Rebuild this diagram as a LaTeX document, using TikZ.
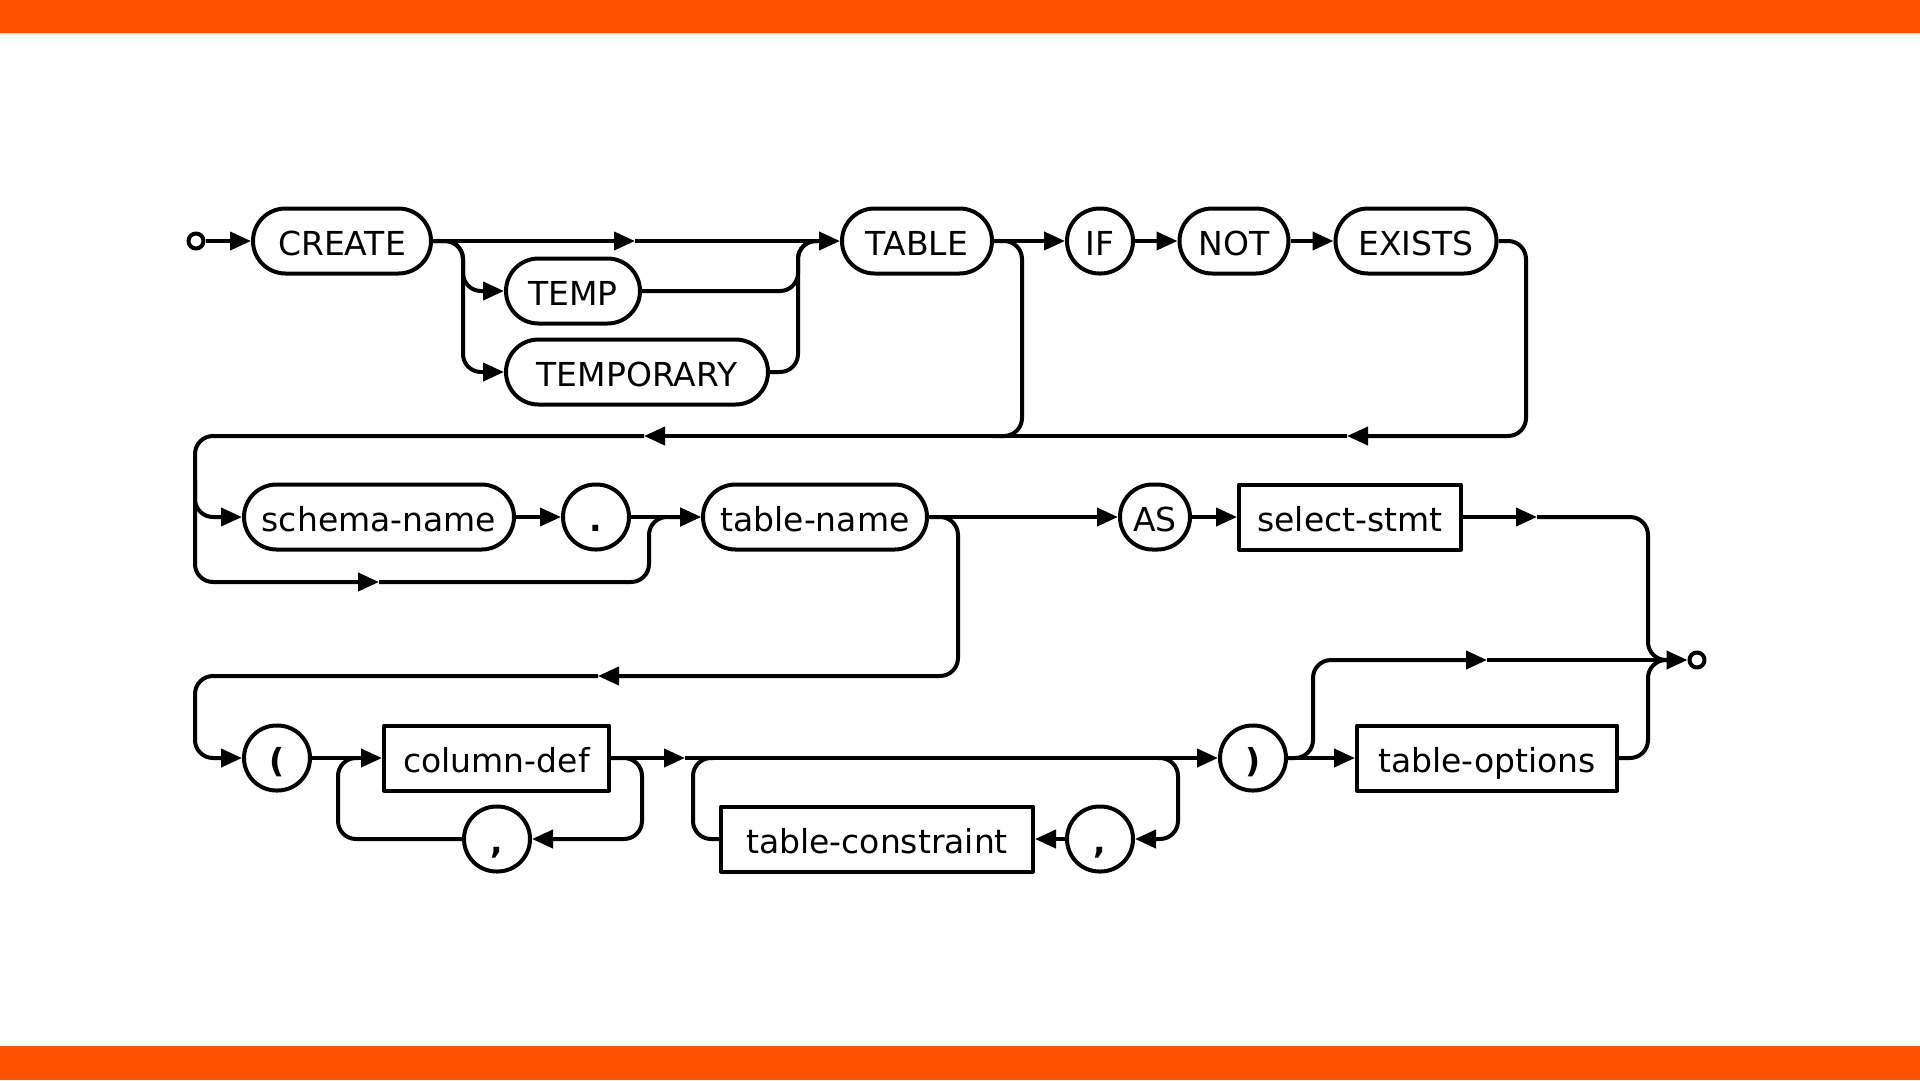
\documentclass[tikz,border=0pt]{standalone}
\usepackage{fontspec}
\setmainfont{DejaVu Sans}
\usetikzlibrary{arrows.meta}
\definecolor{barorange}{RGB}{255,81,0}
\begin{document}
\begin{tikzpicture}[x=1pt,y=-1pt,line width=4pt,line join=round,
  rr/.style={rounded corners=18pt},
  arr/.style={-{Triangle[length=21pt,width=18pt]}},
  lbl/.style={font=\fontsize{33}{40}\selectfont, text height=28pt, text depth=0pt, inner sep=0pt, minimum height=65pt},
  term/.style={lbl, draw, rectangle, rounded corners=32.5pt},
  nterm/.style={lbl, draw, rectangle},
  punct/.style={term, font=\fontsize{33}{40}\selectfont\bfseries, minimum width=66pt},
  endpt/.style={draw, circle, minimum size=15pt, inner sep=0pt}]
\useasboundingbox (0,0) rectangle (1920,1080);
\fill[white] (0,0) rectangle (1920,1080);
\fill[barorange] (0,0) rectangle (1920,33);
\fill[barorange] (0,1046) rectangle (1920,1080);

% ---- nodes ----
\node[endpt] (start) at (196,241) {};
\node[term, minimum width=178pt] (CREATE) at (342,241) {CREATE};
\node[term, minimum width=134pt] (TEMP) at (573,291) {TEMP};
\node[term, minimum width=262pt] (TEMPORARY) at (637,372) {TEMPORARY};
\node[term, minimum width=150pt] (TABLE) at (917,241) {TABLE};
\node[term, minimum width=66pt] (IF) at (1100,241) {IF};
\node[term, minimum width=109pt] (NOT) at (1234,241) {NOT};
\node[term, minimum width=161pt] (EXISTS) at (1416,241) {EXISTS};

\node[term, minimum width=270pt] (schema) at (379,517) {schema-name};
\node[punct] (dot) at (596,517) {.};
\node[term, minimum width=224pt] (tname) at (815,517) {table-name};
\node[term, minimum width=70pt] (AS) at (1155,517) {AS};
\node[nterm, minimum width=222pt] (select) at (1350,517) {select-stmt};

\node[punct] (lpar) at (277,758) {(};
\node[nterm, minimum width=225pt] (coldef) at (496.5,758) {column-def};
\node[punct] (comma1) at (497,839) {,};
\node[nterm, minimum width=312pt] (tcons) at (877,839) {table-constraint};
\node[punct] (comma2) at (1100,839) {,};
\node[punct] (rpar) at (1253,758) {)};
\node[nterm, minimum width=260pt] (topts) at (1487,758) {table-options};
\node[endpt] (end) at (1697,660) {};

% ---- coordinates ----
\coordinate (a1) at (635,241);
\coordinate (j1) at (798,241);
\coordinate (b1) at (1022,436);
\coordinate (c1) at (1526,436);
\coordinate (a2) at (1347,436);
\coordinate (a3) at (644,436);
\coordinate (l1) at (195,436);
\coordinate (l1b) at (195,480);
\coordinate (a4) at (379,582);
\coordinate (b2) at (649,582);
\coordinate (b3) at (958,676);
\coordinate (a5) at (598,676);
\coordinate (l3) at (195,676);
\coordinate (a6) at (1537,517);
\coordinate (ej) at (1648,660);
\coordinate (ej2) at (1669,660);
\coordinate (bp) at (1313,660);
\coordinate (a7) at (1487,660);
\coordinate (cl1) at (642,839);
\coordinate (cl2) at (338,758);
\coordinate (a8) at (685,758);
\coordinate (tl1) at (1158,758);
\coordinate (tl2) at (1178,839);
\coordinate (tl3) at (693,758);

% ---- row 1 ----
\draw[arr] (start) -- (CREATE.west);
\draw[arr] (CREATE.east) -- (a1);
\draw[arr] (a1) -- (TABLE.west);
\draw[rr,arr] (CREATE.east) -- ++(30,0) |- (TEMP.west);
\draw[rr,arr] (CREATE.east) -- ++(30,0) |- (TEMPORARY.west);
\draw[rr] (TEMP.east) -| (j1) -- ++(20,0);
\draw[rr] (TEMPORARY.east) -| (j1) -- ++(20,0);
\draw[arr] (TABLE.east) -- (IF.west);
\draw[arr] (IF.east) -- (NOT.west);
\draw[arr] (NOT.east) -- (EXISTS.west);
\draw[rr] (TABLE.east) -| (b1) -- ++(-30,0);
\draw[rr,arr] (EXISTS.east) -| (c1) -- (a2);
\draw[arr] (a2) -- (a3);

% ---- row 2 ----
\draw[rr,arr] (a3) -- (l1) |- (schema.west);
\draw[rr,arr] (l1b) |- (a4);
\draw[rr,arr] (a4) -| (tname.west -| b2) -- (tname.west);
\draw[arr] (schema.east) -- (dot.west);
\draw[arr] (dot.east) -- (tname.west);
\draw[arr] (tname.east) -- (AS.west);
\draw[arr] (AS.east) -- (select.west);
\draw[arr] (select.east) -- (a6);
\draw[rr] (a6) -| (ej) -- (ej2);
\draw[rr,arr] (tname.east) -| (b3) -- (a5);

% ---- row 3 ----
\draw[rr,arr] (a5) -- (l3) |- (lpar.west);
\draw[arr] (lpar.east) -- (coldef.west);
\draw[rr,arr] (coldef.east) -| (cl1) -- (comma1.east);
\draw[rr] (comma1.west) -| (cl2) -- ++(20,0);
\draw[arr] (coldef.east) -- (a8);
\draw[arr] (a8) -- (rpar.west);
\draw[rr,arr] (tl1) -| (tl2) -- (comma2.east);
\draw[arr] (comma2.west) -- (tcons.east);
\draw[rr] (tcons.west) -| (tl3) -- ++(20,0);
\draw[arr] (rpar.east) -- (topts.west);
\draw[rr,arr] (rpar.east) -| (bp) -- (a7);
\draw (a7) -- (ej2);
\draw[rr] (topts.east) -| (ej) -- (ej2);
\draw[arr] (ej2) -- (end.west);
\end{tikzpicture}
\end{document}
